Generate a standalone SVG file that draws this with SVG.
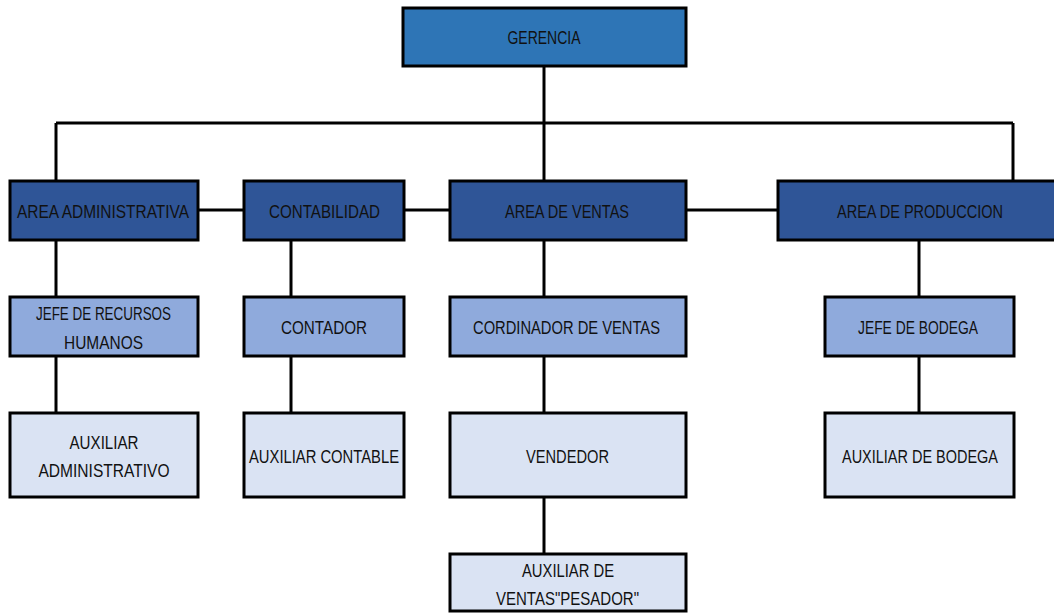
<svg xmlns="http://www.w3.org/2000/svg" width="1054" height="613" viewBox="0 0 1054 613">
<style>
.b{stroke:#000;stroke-width:3}
.l0{fill:#2E75B6}
.l1{fill:#2F5597}
.l2{fill:#8FAADC}
.l3{fill:#DAE3F3}
text{font-family:"Liberation Sans",Arial,sans-serif;font-size:18px;fill:#111;text-anchor:middle}
#connectors path{fill:none;stroke:#000;stroke-width:3}
</style>
<rect width="1054" height="613" fill="#fff"/>
<g id="connectors">
<path d="M56 123H1013"/>
<path d="M544 66V181"/>
<path d="M56 123V181"/>
<path d="M1013 123V181"/>
<path d="M198 210H244"/>
<path d="M404 210H450"/>
<path d="M686 210H778"/>
<path d="M56 240V297M56 356V413"/>
<path d="M291 240V297M291 356V413"/>
<path d="M544 240V297M544 356V413M544 497V554"/>
<path d="M919 240V297M919 356V413"/>
</g>
<g id="gerencia"><rect class="b l0" x="403" y="8" width="283" height="58"/><text x="544" y="44" textLength="73" lengthAdjust="spacingAndGlyphs">GERENCIA</text></g>
<g id="area-administrativa"><rect class="b l1" x="10" y="181" width="188" height="59"/><text x="103" y="218" textLength="172" lengthAdjust="spacingAndGlyphs">AREA ADMINISTRATIVA</text></g>
<g id="contabilidad"><rect class="b l1" x="244" y="181" width="160" height="59"/><text x="324.5" y="218" textLength="111" lengthAdjust="spacingAndGlyphs">CONTABILIDAD</text></g>
<g id="area-ventas"><rect class="b l1" x="450" y="181" width="236" height="59"/><text x="567" y="218" textLength="124" lengthAdjust="spacingAndGlyphs">AREA DE VENTAS</text></g>
<g id="area-produccion"><rect class="b l1" x="778" y="181" width="284" height="59"/><text x="920" y="218" textLength="166" lengthAdjust="spacingAndGlyphs">AREA DE PRODUCCION</text></g>
<g id="jefe-rrhh"><rect class="b l2" x="10" y="297" width="188" height="59"/><text x="103.5" y="320" textLength="135" lengthAdjust="spacingAndGlyphs">JEFE DE RECURSOS</text><text x="103.5" y="349" textLength="79" lengthAdjust="spacingAndGlyphs">HUMANOS</text></g>
<g id="contador"><rect class="b l2" x="244" y="297" width="160" height="59"/><text x="324" y="334" textLength="86" lengthAdjust="spacingAndGlyphs">CONTADOR</text></g>
<g id="cordinador-ventas"><rect class="b l2" x="450" y="297" width="236" height="59"/><text x="566.5" y="334" textLength="187" lengthAdjust="spacingAndGlyphs">CORDINADOR DE VENTAS</text></g>
<g id="jefe-bodega"><rect class="b l2" x="825" y="297" width="189" height="59"/><text x="918" y="334" textLength="120" lengthAdjust="spacingAndGlyphs">JEFE DE BODEGA</text></g>
<g id="auxiliar-administrativo"><rect class="b l3" x="10" y="413" width="188" height="84"/><text x="104" y="449" textLength="69" lengthAdjust="spacingAndGlyphs">AUXILIAR</text><text x="104" y="477" textLength="131" lengthAdjust="spacingAndGlyphs">ADMINISTRATIVO</text></g>
<g id="auxiliar-contable"><rect class="b l3" x="244" y="413" width="160" height="84"/><text x="324" y="463" textLength="150" lengthAdjust="spacingAndGlyphs">AUXILIAR CONTABLE</text></g>
<g id="vendedor"><rect class="b l3" x="450" y="413" width="236" height="84"/><text x="567.5" y="463" textLength="83" lengthAdjust="spacingAndGlyphs">VENDEDOR</text></g>
<g id="auxiliar-bodega"><rect class="b l3" x="825" y="413" width="189" height="84"/><text x="920" y="463" textLength="156" lengthAdjust="spacingAndGlyphs">AUXILIAR DE BODEGA</text></g>
<g id="auxiliar-ventas"><rect class="b l3" x="450" y="554" width="236" height="57"/><text x="568" y="577" textLength="92" lengthAdjust="spacingAndGlyphs">AUXILIAR DE</text><text x="567.5" y="605" textLength="143" lengthAdjust="spacingAndGlyphs">VENTAS"PESADOR"</text></g>
</svg>
